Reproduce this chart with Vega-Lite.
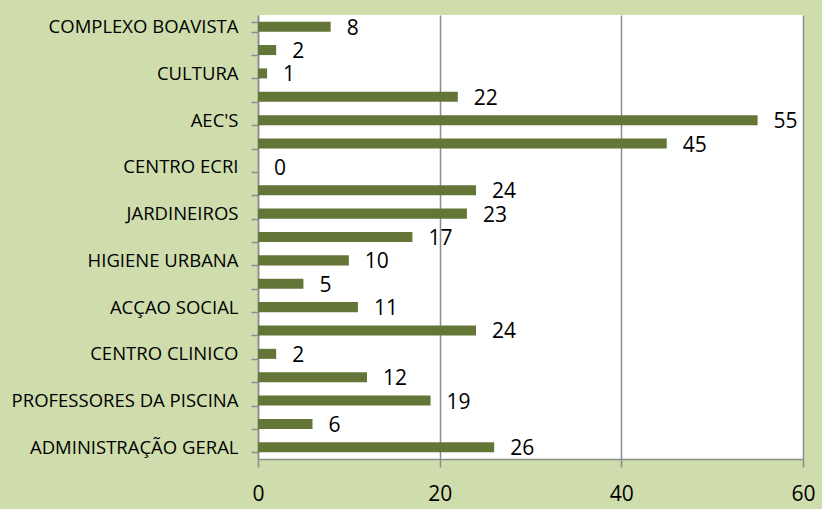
{
  "$schema": "https://vega.github.io/schema/vega-lite/v6.json",
  "autosize": {"type": "none"},
  "width": 545,
  "height": 444,
  "padding": {"left": 258, "top": 15, "right": 19, "bottom": 50},
  "background": "#CFDDAD",
  "view": {"fill": "white", "stroke": null},
  "data": {
    "values": [
      {"categoria": "COMPLEXO BOAVISTA", "valor": 8},
      {"categoria": "#2", "valor": 2},
      {"categoria": "CULTURA", "valor": 1},
      {"categoria": "#4", "valor": 22},
      {"categoria": "AEC'S", "valor": 55},
      {"categoria": "#6", "valor": 45},
      {"categoria": "CENTRO ECRI", "valor": 0},
      {"categoria": "#8", "valor": 24},
      {"categoria": "JARDINEIROS", "valor": 23},
      {"categoria": "#10", "valor": 17},
      {"categoria": "HIGIENE URBANA", "valor": 10},
      {"categoria": "#12", "valor": 5},
      {"categoria": "ACÇAO SOCIAL", "valor": 11},
      {"categoria": "#14", "valor": 24},
      {"categoria": "CENTRO CLINICO", "valor": 2},
      {"categoria": "#16", "valor": 12},
      {"categoria": "PROFESSORES DA PISCINA", "valor": 19},
      {"categoria": "#18", "valor": 6},
      {"categoria": "ADMINISTRAÇÃO GERAL", "valor": 26}
    ]
  },
  "encoding": {
    "y": {
      "field": "categoria",
      "type": "nominal",
      "sort": null,
      "scale": {"paddingInner": 0.57, "paddingOuter": 0.285},
      "axis": {
        "title": null,
        "labelExpr": "indexof(datum.label, '#') === 0 ? '' : datum.label",
        "labelFont": "Open Sans",
        "labelFontSize": 18.5,
        "labelLimit": 300,
        "labelColor": "#000000",
        "labelPadding": 13,
        "tickBand": "extent",
        "tickSize": 7,
        "tickColor": "#8C8C8C",
        "tickWidth": 1.5,
        "domainColor": "#8C8C8C",
        "domainWidth": 1.5,
        "grid": false
      }
    },
    "x": {
      "field": "valor",
      "type": "quantitative",
      "scale": {"domain": [0, 60], "nice": false},
      "axis": {
        "title": null,
        "values": [0, 20, 40, 60],
        "labelFlush": false,
        "labelFont": "Open Sans",
        "labelFontSize": 21,
        "labelColor": "#000000",
        "labelPadding": 16,
        "tickSize": 8,
        "tickColor": "#8C8C8C",
        "tickWidth": 1.5,
        "domainColor": "#8C8C8C",
        "domainWidth": 1.5,
        "grid": true,
        "gridColor": "#8C8C8C",
        "gridWidth": 1.5
      }
    }
  },
  "layer": [
    {"mark": {"type": "bar", "color": "#647538"}},
    {
      "mark": {"type": "text", "align": "left", "baseline": "middle", "dx": 16, "dy": 2, "font": "Open Sans", "fontSize": 21, "color": "#000000"},
      "encoding": {"text": {"field": "valor", "type": "quantitative"}}
    }
  ]
}
